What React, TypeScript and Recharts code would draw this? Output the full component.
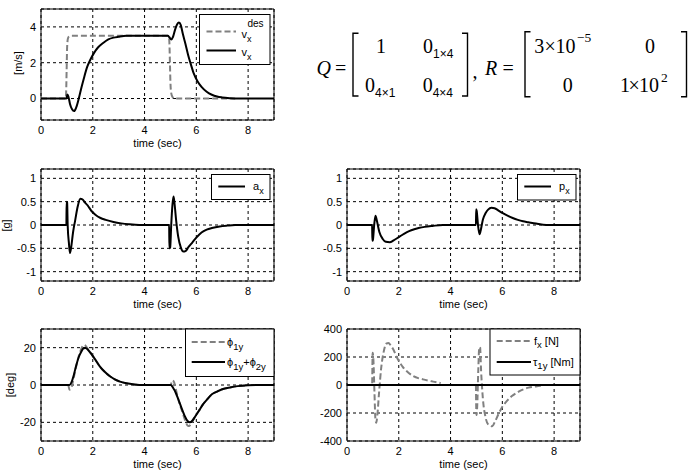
import React from 'react';
import { LineChart, Line, XAxis, YAxis, CartesianGrid, ReferenceArea } from 'recharts';

const FONT = '"Liberation Sans", Arial, Helvetica, sans-serif';
const SERIF = '"Liberation Serif", "Times New Roman", serif';
const GRAY = '#808080';

const timeTicks = [0, 2, 4, 6, 8];

// Panel 1: v_x^des and v_x [m/s]
const vDesT = [0, 0.95, 0.97, 0.99, 1.01, 1.04, 1.08, 1.15, 4.9, 4.94, 4.96, 4.98, 5.0, 5.03, 5.08, 5.15, 7.5];
const vDesV = [0, 0, 0.3, 1.6, 2.9, 3.35, 3.46, 3.5, 3.5, 3.42, 3.1, 2.0, 0.9, 0.3, 0.08, 0, 0];
const vxT = [0, 0.98, 1.02, 1.06, 1.12, 1.2, 1.28, 1.36, 1.46, 1.56, 1.66, 1.78, 1.9, 2.05, 2.2, 2.4, 2.6, 2.8, 3.0, 3.3, 3.6, 4.0, 4.5, 4.9, 4.96, 5.03, 5.1, 5.18, 5.26, 5.33, 5.4, 5.48, 5.58, 5.68, 5.78, 5.9, 6.05, 6.2, 6.4, 6.6, 6.8, 7.0, 7.3, 7.6, 9];
const vxV = [0, 0, 0.22, 0.1, -0.3, -0.6, -0.7, -0.5, 0.0, 0.6, 1.15, 1.75, 2.15, 2.55, 2.85, 3.1, 3.3, 3.4, 3.45, 3.5, 3.5, 3.5, 3.5, 3.5, 3.42, 3.3, 3.45, 3.85, 4.15, 4.25, 4.1, 3.6, 3.05, 2.45, 1.95, 1.4, 0.95, 0.65, 0.38, 0.21, 0.11, 0.06, 0.02, 0, 0];
const p1Ticks = [0, 2, 4];

// Panel 2: a_x [g]
const axT = [0, 0.98, 0.99, 1.01, 1.03, 1.08, 1.12, 1.16, 1.24, 1.32, 1.42, 1.52, 1.6, 1.7, 1.8, 1.95, 2.1, 2.3, 2.5, 2.8, 3.1, 3.4, 3.8, 4.95, 4.96, 4.99, 5.03, 5.08, 5.12, 5.16, 5.22, 5.3, 5.4, 5.5, 5.58, 5.7, 5.85, 6.0, 6.2, 6.4, 6.6, 6.9, 7.2, 7.5, 9];
const axV = [0, 0, 0.5, 0.48, 0, -0.4, -0.6, -0.5, -0.15, 0.1, 0.4, 0.56, 0.55, 0.48, 0.42, 0.3, 0.22, 0.15, 0.11, 0.065, 0.035, 0.015, 0, 0, -0.5, -0.48, 0, 0.45, 0.61, 0.45, 0.1, -0.25, -0.48, -0.57, -0.56, -0.47, -0.37, -0.27, -0.16, -0.1, -0.065, -0.03, -0.012, 0, 0];
const unitTicks = [-1, -0.5, 0, 0.5, 1];

// Panel 3: p_x
const pxT = [0, 0.97, 0.98, 1.0, 1.05, 1.1, 1.15, 1.25, 1.38, 1.5, 1.65, 1.8, 2.0, 2.2, 2.4, 2.6, 2.8, 3.0, 3.3, 3.7, 4.98, 4.99, 5.01, 5.06, 5.12, 5.17, 5.25, 5.35, 5.45, 5.58, 5.7, 5.85, 6.0, 6.2, 6.4, 6.6, 6.8, 7.0, 7.3, 7.7, 9];
const pxV = [0, 0, -0.34, -0.32, 0, 0.2, 0.1, -0.15, -0.3, -0.36, -0.37, -0.33, -0.26, -0.19, -0.13, -0.09, -0.06, -0.04, -0.02, 0, 0, 0.34, 0.3, 0, -0.2, -0.1, 0.12, 0.25, 0.33, 0.37, 0.36, 0.31, 0.26, 0.2, 0.15, 0.11, 0.08, 0.06, 0.03, 0, 0];

// Panel 4: phi_1y and phi_1y + phi_2y [deg]
const phi1T = [0, 1.05, 1.1, 1.16, 1.25, 1.36, 1.46, 1.56, 1.65, 1.72, 1.82, 1.95, 2.1, 2.27, 2.45, 2.65, 2.85, 3.05, 3.3, 3.6, 4.0, 5.0, 5.08, 5.14, 5.22, 5.32, 5.45, 5.57, 5.68, 5.76, 5.85, 5.95, 6.1, 6.25, 6.4, 6.6, 6.8, 7.0, 7.3, 7.6, 8.0];
const phi1V = [0, 0, -2.5, -2, 3, 10, 15.5, 19.5, 21.5, 21, 19, 16.5, 13.5, 10, 7.2, 4.8, 3, 1.8, 0.9, 0.3, 0, 0, 2.5, 1.5, -3, -8.5, -14, -19, -22, -21.5, -19.5, -17, -13.8, -10.5, -8, -5, -3.5, -2.3, -1.3, -0.6, -0.15];
const phiSumT = [0, 1.1, 1.18, 1.26, 1.36, 1.46, 1.56, 1.65, 1.72, 1.82, 1.95, 2.1, 2.27, 2.45, 2.65, 2.85, 3.05, 3.3, 3.6, 4.0, 5.02, 5.1, 5.2, 5.3, 5.42, 5.55, 5.66, 5.75, 5.85, 5.95, 6.1, 6.25, 6.4, 6.6, 6.8, 7.0, 7.3, 7.6, 8.0, 8.3, 9];
const phiSumV = [0, 0, 1.5, 5, 10.5, 15, 18, 19.7, 19.8, 18.8, 16.5, 13.5, 10, 7.2, 4.8, 3, 1.8, 0.9, 0.3, 0, 0, -1.5, -4, -7.5, -12, -16.5, -19.3, -20, -19, -17, -13.8, -10.5, -8, -5, -3.5, -2.3, -1.3, -0.6, -0.15, 0, 0];
const degTicks = [-20, 0, 20];

// Panel 5: f_x [N] and tau_1y [Nm]
const fxT = [0, 0.97, 0.99, 1.02, 1.06, 1.1, 1.13, 1.17, 1.24, 1.32, 1.42, 1.52, 1.6, 1.7, 1.8, 1.92, 2.04, 2.17, 2.3, 2.55, 2.94, 3.33, 3.62, 4.0, 4.98, 5.0, 5.03, 5.07, 5.11, 5.14, 5.18, 5.25, 5.35, 5.47, 5.6, 5.72, 5.86, 6.0, 6.12, 6.37, 6.63, 7.01, 7.3, 7.55];
const fxV: (number | null)[] = [0, 0, 230, 180, -50, -250, -270, -220, -50, 120, 240, 295, 300, 280, 250, 200, 160, 125, 100, 64, 40, 24, 14, null, 0, -215, -150, 100, 270, 270, 100, -100, -230, -285, -295, -260, -205, -155, -126, -79, -48, -19, -10, -5];
const tauT = [0, 9];
const tauV = [0, 0];
const forceTicks = [-400, -200, 0, 200, 400];

const pts = (t: number[], v: (number | null)[]) => t.map((x, i) => ({ t: x, v: v[i] }));

type Series = { t: number[]; v: (number | null)[]; color: string; dash?: string };

type PanelProps = {
  x: number; y: number; w: number; h: number;
  domain: [number, number]; ticks: number[]; series: Series[];
};

const YW = 40;
const MT = 10;
const MR = 4;
const XH = 34;

function Panel({ x, y, w, h, domain, ticks, series }: PanelProps) {
  const tickStyle = { fill: '#000', fontSize: 11, fontFamily: FONT };
  return (
    <div style={{ position: 'absolute', left: x - YW, top: y - MT }}>
      <LineChart width={YW + w + MR} height={MT + h + XH} margin={{ top: MT, right: MR, bottom: 0, left: 0 }}>
        <CartesianGrid stroke="#000" strokeDasharray="3 3" strokeWidth={1} fill="none" />
        <XAxis
          type="number" dataKey="t" domain={[0, 9]} ticks={timeTicks} interval={0}
          height={XH} tickSize={0} tickMargin={6} axisLine={false} tickLine={false}
          tick={tickStyle} allowDataOverflow
          label={{ value: 'time (sec)', position: 'insideBottom', offset: XH - 26.5, fill: '#000', fontSize: 11, fontFamily: FONT }}
        />
        <YAxis
          type="number" domain={domain} ticks={ticks} interval={0} width={YW}
          tickSize={0} tickMargin={5} axisLine={false} tickLine={false}
          tick={tickStyle} allowDataOverflow
        />
        <ReferenceArea x1={0} x2={9} y1={domain[0]} y2={domain[1]} fill="none" stroke="#000" strokeWidth={1} />
        {series.map((s, i) => (
          <Line
            key={i} data={pts(s.t, s.v)} dataKey="v" type="monotone"
            stroke={s.color} strokeWidth={2} strokeDasharray={s.dash}
            dot={false} activeDot={false} isAnimationActive={false} connectNulls={false}
          />
        ))}
      </LineChart>
    </div>
  );
}

function Sub({ x, y, main, sub, size = 11, shift = 4 }: { x: number; y: number; main: string; sub: string; size?: number; shift?: number }) {
  return (
    <text x={x} y={y} fontSize={size}>
      <tspan>{main}</tspan>
      <tspan dy={shift} fontSize={size - 2}>{sub}</tspan>
    </text>
  );
}

function Bracket({ x, y1, y2, dir }: { x: number; y1: number; y2: number; dir: 1 | -1 }) {
  const s = 5.5 * dir;
  return <path d={`M ${x + s} ${y1} H ${x} V ${y2} H ${x + s}`} fill="none" stroke="#000" strokeWidth={1.4} />;
}

export default function App() {
  return (
    <div style={{ position: 'fixed', left: 0, top: 0, width: 694, height: 475, background: '#fff', overflow: 'hidden' }}>
      <Panel x={41} y={9} w={233} h={111} domain={[-1.2, 5]} ticks={p1Ticks}
        series={[{ t: vDesT, v: vDesV, color: GRAY, dash: '6 3' }, { t: vxT, v: vxV, color: '#000' }]} />
      <Panel x={41} y={169} w={233} h={112} domain={[-1.2, 1.2]} ticks={unitTicks}
        series={[{ t: axT, v: axV, color: '#000' }]} />
      <Panel x={347} y={169} w={233} h={112} domain={[-1.2, 1.2]} ticks={unitTicks}
        series={[{ t: pxT, v: pxV, color: '#000' }]} />
      <Panel x={41} y={329} w={233} h={112} domain={[-30, 30]} ticks={degTicks}
        series={[{ t: phi1T, v: phi1V, color: GRAY, dash: '6 3' }, { t: phiSumT, v: phiSumV, color: '#000' }]} />
      <Panel x={347} y={329} w={233} h={112} domain={[-400, 400]} ticks={forceTicks}
        series={[{ t: fxT, v: fxV, color: GRAY, dash: '6 3' }, { t: tauT, v: tauV, color: '#000' }]} />

      <svg width={694} height={475} style={{ position: 'absolute', left: 0, top: 0, pointerEvents: 'none' }} fontFamily={FONT} fontSize={11} fill="#000">
        {/* y labels */}
        <text x={17.5} y={63} transform="rotate(-90 17.5 63)" textAnchor="middle" dominantBaseline="central">[m/s]</text>
        <text x={5.5} y={225.5} transform="rotate(-90 5.5 225.5)" textAnchor="middle" dominantBaseline="central">[g]</text>
        <text x={9.5} y={385} transform="rotate(-90 9.5 385)" textAnchor="middle" dominantBaseline="central">[deg]</text>

        {/* legend 1 */}
        <rect x={199.5} y={14.5} width={70.5} height={50} fill="#fff" stroke="#000" />
        <line x1={206.5} x2={236} y1={31.5} y2={31.5} stroke={GRAY} strokeWidth={2} strokeDasharray="6 3" />
        <text x={241.5} y={37.5}>v</text>
        <text x={247} y={41.5} fontSize={9}>x</text>
        <text x={247.5} y={27} fontSize={10}>des</text>
        <line x1={206.5} x2={236} y1={50.5} y2={50.5} stroke="#000" strokeWidth={2} />
        <Sub x={241.5} y={55.5} main="v" sub="x" />

        {/* legend 2 */}
        <rect x={211.5} y={174.5} width={58.5} height={25} fill="#fff" stroke="#000" />
        <line x1={218.3} x2={245} y1={186.5} y2={186.5} stroke="#000" strokeWidth={2} />
        <Sub x={253} y={189.7} main="a" sub="x" />

        {/* legend 3 */}
        <rect x={517.5} y={174.5} width={58.5} height={25.5} fill="#fff" stroke="#000" />
        <line x1={524.3} x2={551} y1={186.5} y2={186.5} stroke="#000" strokeWidth={2} />
        <Sub x={559} y={189.7} main="p" sub="x" />

        {/* legend 4 */}
        <rect x={185.5} y={329} width={88.5} height={47.5} fill="#fff" stroke="#000" />
        <line x1={191.7} x2={225} y1={342} y2={342} stroke={GRAY} strokeWidth={2} strokeDasharray="6 3" />
        <text x={227} y={346}>
          <tspan>ϕ</tspan><tspan dy={3.5} fontSize={9.5}>1y</tspan>
        </text>
        <line x1={191.7} x2={225} y1={362} y2={362} stroke="#000" strokeWidth={2} />
        <text x={227} y={366}>
          <tspan>ϕ</tspan><tspan dy={3.5} fontSize={9.5}>1y</tspan><tspan dy={-3.5}>+ϕ</tspan><tspan dy={3.5} fontSize={9.5}>2y</tspan>
        </text>

        {/* legend 5 */}
        <rect x={490} y={329} width={90} height={46} fill="#fff" stroke="#000" />
        <line x1={496.7} x2={531} y1={341} y2={341} stroke={GRAY} strokeWidth={2} strokeDasharray="6 3" />
        <text x={534} y={344.5}>
          <tspan>f</tspan><tspan dy={3.5} fontSize={9.5}>x</tspan><tspan dy={-3.5}> [N]</tspan>
        </text>
        <line x1={496.7} x2={531} y1={362} y2={362} stroke="#000" strokeWidth={2} />
        <text x={533} y={365.5}>
          <tspan>τ</tspan><tspan dy={3.5} fontSize={9.5}>1y</tspan><tspan dy={-3.5}> [Nm]</tspan>
        </text>

        {/* equation */}
        <g fontFamily={SERIF} fontSize={20}>
          <text x={316.5} y={74.5} fontStyle="italic">Q</text>
          <text x={335} y={74.5}>=</text>
          <Bracket x={353} y1={33.3} y2={96} dir={1} />
          <text x={376} y={52.7}>1</text>
          <text x={423} y={52.7}>0</text>
          <text x={433} y={58.3} fontFamily={FONT} fontSize={12}>1×4</text>
          <text x={365} y={91.7}>0</text>
          <text x={375} y={96.5} fontFamily={FONT} fontSize={12}>4×1</text>
          <text x={422.7} y={91.7}>0</text>
          <text x={432.7} y={96.5} fontFamily={FONT} fontSize={12}>4×4</text>
          <Bracket x={467.5} y1={33.3} y2={96} dir={-1} />
          <text x={472.5} y={78}>,</text>
          <text x={485} y={74.5} fontStyle="italic">R</text>
          <text x={502.5} y={74.5}>=</text>
          <Bracket x={525} y1={31.7} y2={96.7} dir={1} />
          <text x={534.3} y={52.7}>3</text>
          <text x={544.5} y={52.7}>×</text>
          <text x={555.5} y={52.7}>10</text>
          <text x={577} y={42} fontSize={13.5}>−5</text>
          <text x={645} y={52.7}>0</text>
          <text x={562.7} y={91.7}>0</text>
          <text x={620} y={91.7}>1</text>
          <text x={628.5} y={91.7}>×</text>
          <text x={639} y={91.7}>10</text>
          <text x={661} y={82} fontSize={13.5}>2</text>
          <Bracket x={686.5} y1={31.7} y2={96.7} dir={-1} />
        </g>
      </svg>
    </div>
  );
}
